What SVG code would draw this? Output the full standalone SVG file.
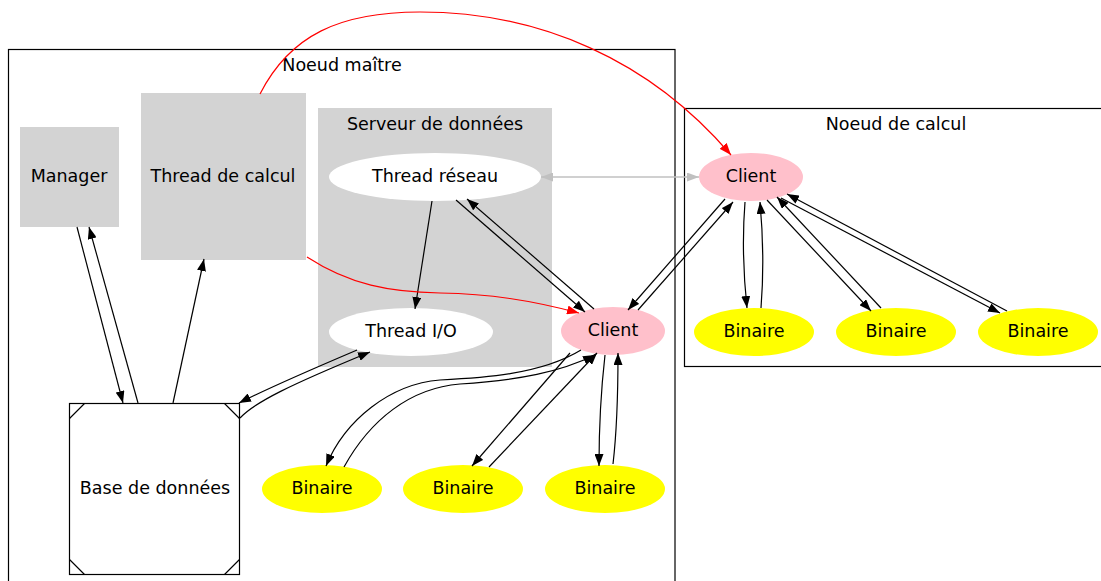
<svg xmlns="http://www.w3.org/2000/svg" width="1101" height="581" viewBox="0 0 1101 581">
<style>
text{font-family:"DejaVu Sans",Verdana,sans-serif;font-size:17.5px;fill:#000;text-anchor:middle;dominant-baseline:central}
.e{fill:none;stroke:#000;stroke-width:1.2}
.r{fill:none;stroke:#ff0000;stroke-width:1.2}
.g{fill:none;stroke:#c0c0c0;stroke-width:1.5}
.bin{fill:#ffff00}
.cli{fill:#ffc0cb}
.box{fill:#d3d3d3}
.cl{fill:none;stroke:#000;stroke-width:1.2}
</style>
<defs>
<marker id="ab" viewBox="0 0 12 9" markerWidth="12" markerHeight="9" refX="12" refY="4.5" orient="auto" markerUnits="userSpaceOnUse"><path d="M0,0 L12,4.5 L0,9 z" fill="#000"/></marker>
<marker id="ar" viewBox="0 0 12 9" markerWidth="12" markerHeight="9" refX="12" refY="4.5" orient="auto" markerUnits="userSpaceOnUse"><path d="M0,0 L12,4.5 L0,9 z" fill="#ff0000"/></marker>
<marker id="ag" viewBox="0 0 12 9" markerWidth="12" markerHeight="9" refX="12" refY="4.5" orient="auto-start-reverse" markerUnits="userSpaceOnUse"><path d="M0,0 L12,4.5 L0,9 z" fill="#c0c0c0"/></marker>
</defs>
<rect width="1101" height="581" fill="#fff"/>
<g id="cluster-maitre">
<rect class="cl" x="8.5" y="49.5" width="666.5" height="545"/>
<text x="342" y="65">Noeud maître</text>
</g>
<g id="cluster-serveur">
<rect class="box" x="318" y="108" width="234" height="259"/>
<text x="435" y="124">Serveur de données</text>
</g>
<g id="cluster-calcul">
<rect class="cl" x="684.5" y="108.5" width="430" height="258"/>
<text x="896" y="124">Noeud de calcul</text>
</g>
<g id="manager"><rect class="box" x="20" y="127" width="99" height="100"/><text x="69" y="176">Manager</text></g>
<g id="thread-calcul"><rect class="box" x="141" y="93" width="165" height="167"/><text x="223" y="176">Thread de calcul</text></g>
<g id="thread-reseau"><ellipse cx="435" cy="177" rx="106" ry="24" fill="#fff"/><text x="435" y="176">Thread réseau</text></g>
<g id="thread-io"><ellipse cx="411" cy="332" rx="82" ry="24" fill="#fff"/><text x="411" y="331">Thread I/O</text></g>
<g id="client-maitre"><ellipse class="cli" cx="613" cy="331" rx="52" ry="24"/><text x="613" y="330">Client</text></g>
<g id="base"><rect x="69.5" y="403.5" width="170" height="171" fill="#fff" stroke="#000" stroke-width="1.2"/>
<path d="M69.5,418.5 L84.5,403.5 M224.5,403.5 L239.5,418.5 M69.5,559.5 L84.5,574.5 M224.5,574.5 L239.5,559.5" stroke="#000" stroke-width="1.2" fill="none"/>
<text x="155" y="488">Base de données</text></g>
<g id="bin-m1"><ellipse class="bin" cx="322" cy="489" rx="60" ry="24"/><text x="322" y="488">Binaire</text></g>
<g id="bin-m2"><ellipse class="bin" cx="463" cy="489" rx="60" ry="24"/><text x="463" y="488">Binaire</text></g>
<g id="bin-m3"><ellipse class="bin" cx="605" cy="489" rx="60" ry="24"/><text x="605" y="488">Binaire</text></g>
<g id="client-calcul"><ellipse class="cli" cx="751" cy="177" rx="52" ry="24"/><text x="751" y="176">Client</text></g>
<g id="bin-c1"><ellipse class="bin" cx="754" cy="332" rx="60" ry="24"/><text x="754" y="331">Binaire</text></g>
<g id="bin-c2"><ellipse class="bin" cx="896" cy="332" rx="60" ry="24"/><text x="896" y="331">Binaire</text></g>
<g id="bin-c3"><ellipse class="bin" cx="1038" cy="332" rx="60" ry="24"/><text x="1038" y="331">Binaire</text></g>
<g id="edges">
<path class="e" marker-end="url(#ab)" d="M77,227 L123,403"/>
<path class="e" marker-end="url(#ab)" d="M138,403 L89,227"/>
<path class="e" marker-end="url(#ab)" d="M173,403 L204,259"/>
<path class="e" marker-end="url(#ab)" d="M357,350 C310,370 270,387 239,403"/>
<path class="e" marker-end="url(#ab)" d="M240,418 C255,402 290,385 370,352"/>
<path class="e" marker-end="url(#ab)" d="M432,201 L415,309"/>
<path class="e" marker-end="url(#ab)" d="M456,200 L585,312"/>
<path class="e" marker-end="url(#ab)" d="M594,309 L467,199"/>
<path class="r" marker-end="url(#ar)" d="M307,257 C350,285 390,292 440,293 C490,294 530,300 579,313"/>
<path class="r" marker-end="url(#ar)" d="M260,94 C290,35 340,12 420,12 C540,12 650,60 731,155"/>
<path class="g" marker-start="url(#ag)" marker-end="url(#ag)" d="M541,177 L699,177"/>
<path class="e" marker-end="url(#ab)" d="M725,199 L628,310"/>
<path class="e" marker-end="url(#ab)" d="M638,310 L733,202"/>
<path class="e" marker-end="url(#ab)" d="M745,202 C742,240 744,280 747,308"/>
<path class="e" marker-end="url(#ab)" d="M761,308 C764,270 763,235 760,202"/>
<path class="e" marker-end="url(#ab)" d="M767,200 L871,311"/>
<path class="e" marker-end="url(#ab)" d="M881,308 L777,197"/>
<path class="e" marker-end="url(#ab)" d="M781,198 L1000,313"/>
<path class="e" marker-end="url(#ab)" d="M1007,311 L787,194"/>
<path class="e" marker-end="url(#ab)" d="M581,350 C540,375 480,378 440,380 C390,384 345,420 326,466"/>
<path class="e" marker-end="url(#ab)" d="M344,467 C370,420 410,388 460,384 C520,380 560,372 595,355"/>
<path class="e" marker-end="url(#ab)" d="M570,353 L472,466"/>
<path class="e" marker-end="url(#ab)" d="M489,467 L597,353"/>
<path class="e" marker-end="url(#ab)" d="M605,355 C601,390 599,430 599,466"/>
<path class="e" marker-end="url(#ab)" d="M613,464 C617,430 618,390 618,353"/>
</g>
</svg>
